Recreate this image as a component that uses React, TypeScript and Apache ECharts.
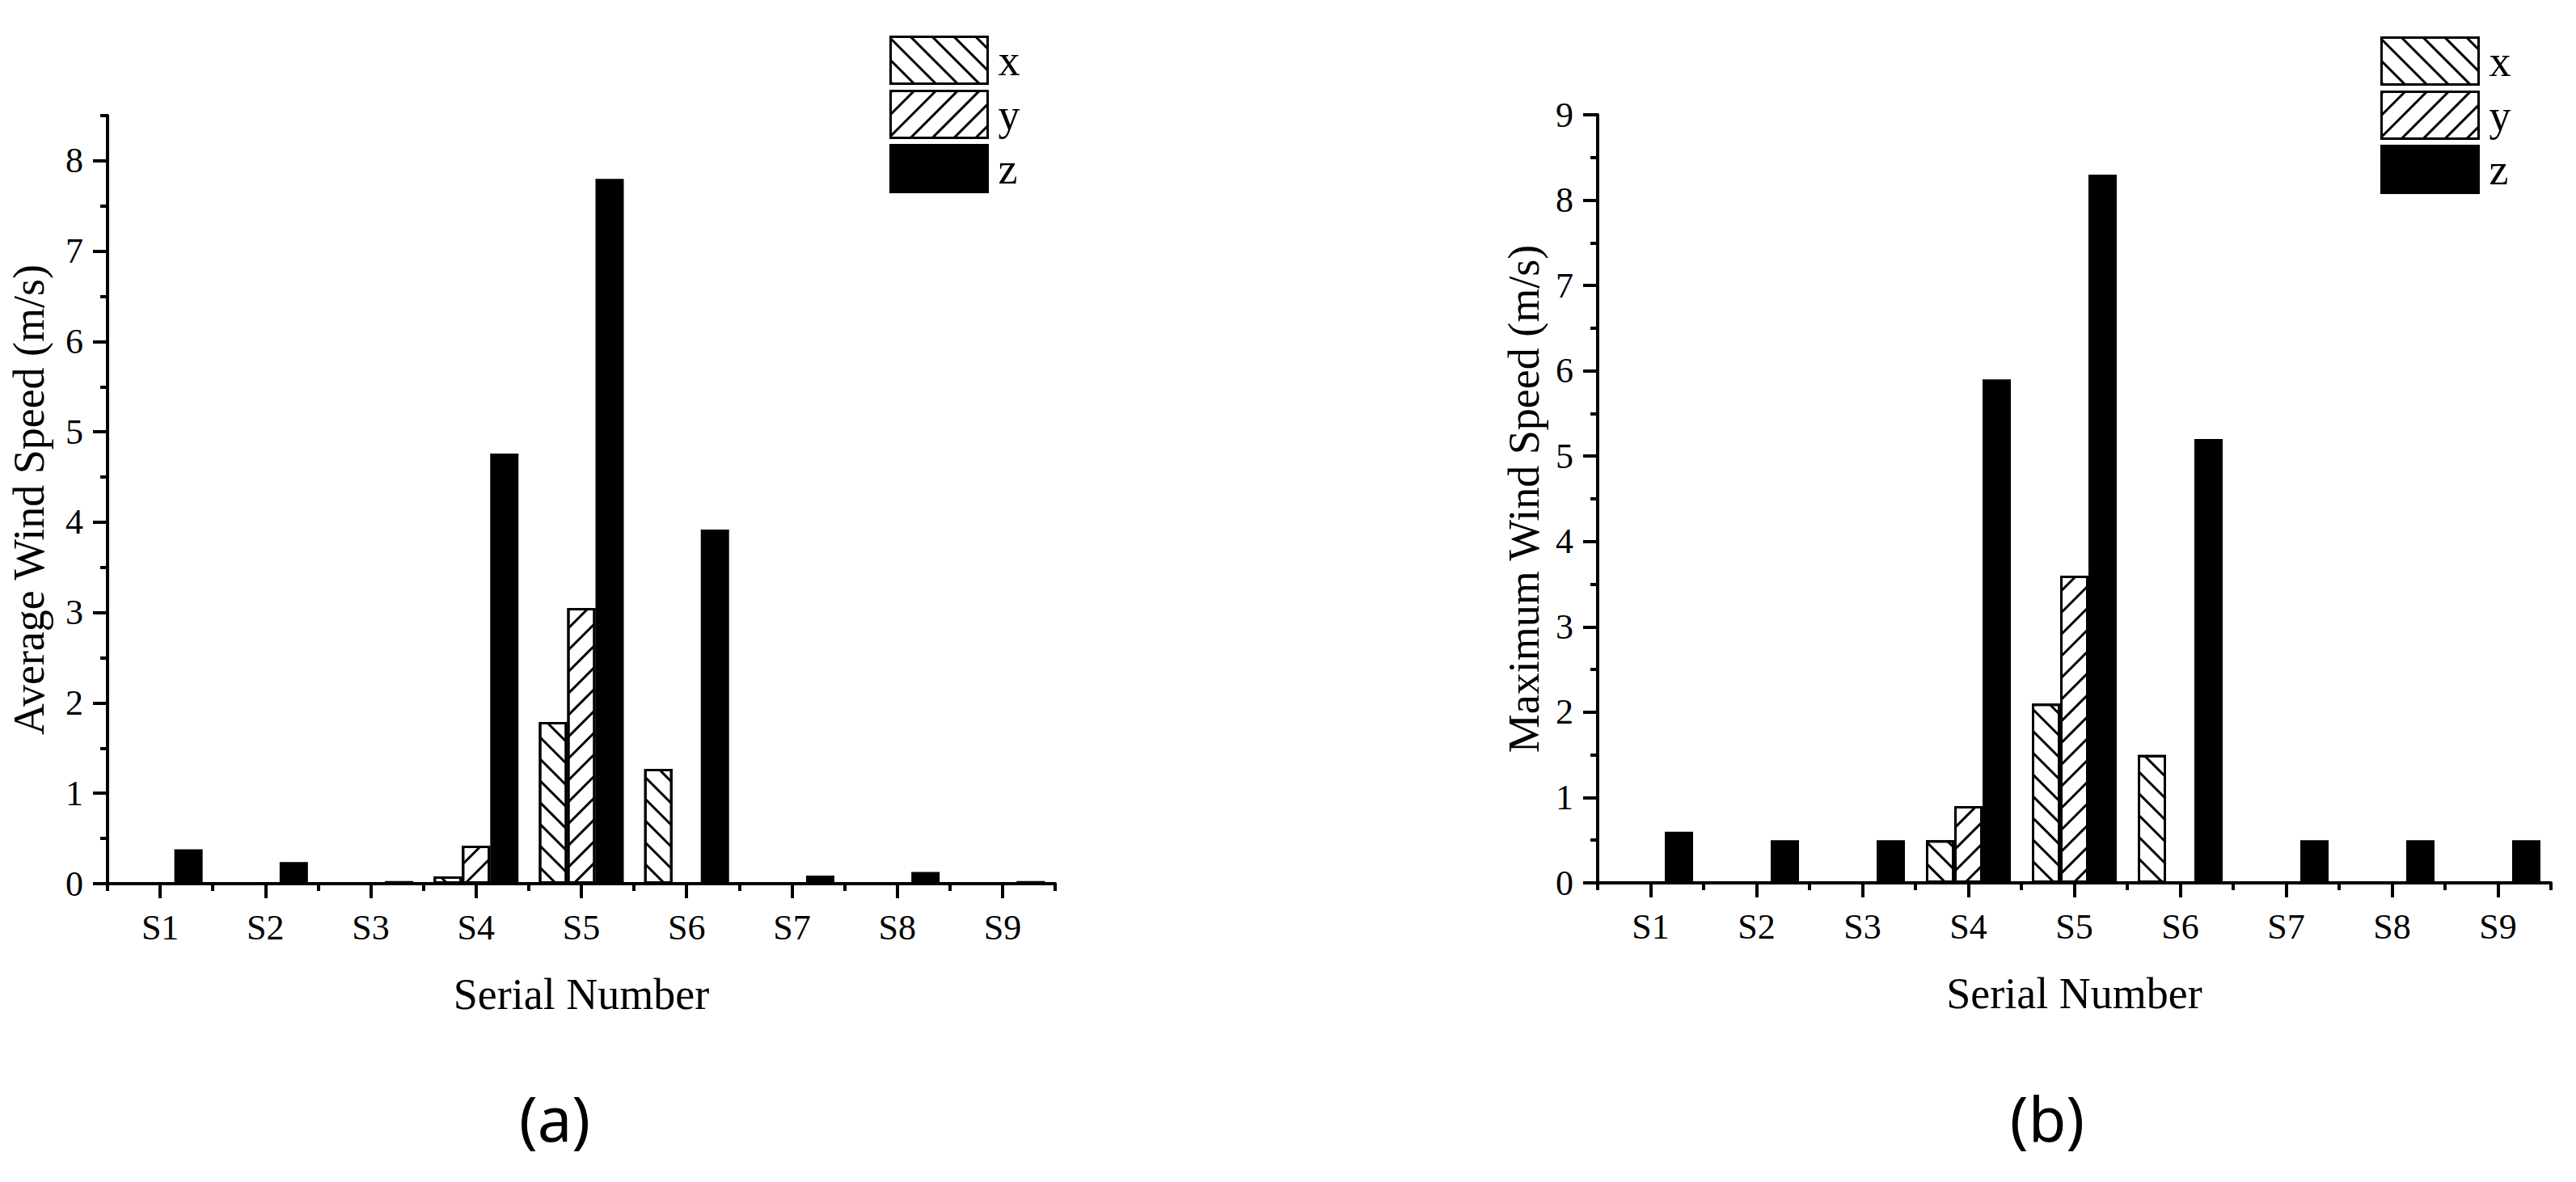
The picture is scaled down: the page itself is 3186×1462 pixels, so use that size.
import React, { useEffect, useRef } from "react";
import * as echarts from "echarts";

const categories = ["S1", "S2", "S3", "S4", "S5", "S6", "S7", "S8", "S9"];
const seriesNames = ["x", "y", "z"];

// (a) Average wind speed (m/s)
const avgX = [0, 0, 0, 0.08, 1.79, 1.27, 0, 0, 0];
const avgY = [0, 0, 0, 0.42, 3.05, 0, 0, 0, 0];
const avgZ = [0.38, 0.24, 0.03, 4.76, 7.8, 3.92, 0.09, 0.13, 0.03];

// (b) Maximum wind speed (m/s)
const maxX = [0, 0, 0, 0.5, 2.1, 1.5, 0, 0, 0];
const maxY = [0, 0, 0, 0.9, 3.6, 0, 0, 0, 0];
const maxZ = [0.6, 0.5, 0.5, 5.9, 8.3, 5.2, 0.5, 0.5, 0.5];

const avgMajorTicks = [0, 1, 2, 3, 4, 5, 6, 7, 8];
const avgMinorTicks = [0.5, 1.5, 2.5, 3.5, 4.5, 5.5, 6.5, 7.5, 8.5];
const maxMajorTicks = [0, 1, 2, 3, 4, 5, 6, 7, 8, 9];
const maxMinorTicks = [0.5, 1.5, 2.5, 3.5, 4.5, 5.5, 6.5, 7.5, 8.5];

const SERIF = "Liberation Serif";
const INK = "#000";

const hatch = (rotation: number) => ({
  symbol: "rect",
  symbolSize: 1,
  color: INK,
  backgroundColor: null,
  dashArrayX: [1, 0],
  dashArrayY: [3, 16],
  rotation,
});

const styles: any[] = [
  { color: "#fff", borderColor: INK, borderWidth: 3, decal: hatch(Math.PI / 4) },
  { color: "#fff", borderColor: INK, borderWidth: 3, decal: hatch(-Math.PI / 4) },
  { color: INK, borderColor: INK, borderWidth: 3 },
];

function buildAxes(
  gi: number,
  max: number,
  major: number[],
  minor: number[],
  yName: string,
  yNameGap: number
) {
  const xMain = {
    type: "category",
    gridIndex: gi,
    data: categories,
    boundaryGap: true,
    position: "bottom",
    axisLine: { show: true, lineStyle: { color: INK, width: 4 } },
    axisTick: { show: true, alignWithLabel: true, interval: 0, length: 18, lineStyle: { color: INK, width: 4 } },
    axisLabel: { interval: 0, fontSize: 44, fontFamily: SERIF, color: INK, margin: 32 },
    splitLine: { show: false },
    name: "Serial Number",
    nameLocation: "middle",
    nameGap: 110,
    nameTextStyle: { fontSize: 54, fontFamily: SERIF, color: INK },
  };
  const xMinor = {
    type: "category",
    gridIndex: gi,
    data: categories,
    boundaryGap: true,
    position: "bottom",
    axisLine: { show: false },
    axisTick: { show: true, alignWithLabel: false, interval: 0, length: 9, lineStyle: { color: INK, width: 4 } },
    axisLabel: { show: false },
    splitLine: { show: false },
  };
  const yMain = {
    type: "value",
    gridIndex: gi,
    min: 0,
    max,
    interval: 1,
    position: "left",
    axisLine: { show: true, lineStyle: { color: INK, width: 4 } },
    axisTick: { show: true, length: 18, customValues: major, lineStyle: { color: INK, width: 4 } },
    axisLabel: {
      customValues: major,
      fontSize: 44,
      fontFamily: SERIF,
      color: INK,
      margin: 30,
      formatter: (v: number) => (Number.isInteger(v) ? String(v) : ""),
    },
    splitLine: { show: false },
    name: yName,
    nameLocation: "middle",
    nameGap: yNameGap,
    nameRotate: 90,
    nameTextStyle: { fontSize: 54, fontFamily: SERIF, color: INK },
  };
  const yMinor = {
    type: "value",
    gridIndex: gi,
    min: 0,
    max,
    interval: 0.5,
    position: "left",
    offset: 0,
    axisLine: { show: false },
    axisTick: { show: true, length: 9, customValues: minor, lineStyle: { color: INK, width: 4 } },
    axisLabel: { show: false },
    splitLine: { show: false },
  };
  return { x: [xMain, xMinor], y: [yMain, yMinor] };
}

export default function App() {
  const ref = useRef<HTMLDivElement>(null);

  useEffect(() => {
    if (!ref.current) return;
    const chart = echarts.init(ref.current, null, { renderer: "svg" });

    const a = buildAxes(0, 8.5, avgMajorTicks, avgMinorTicks, "Average Wind Speed (m/s)", 70);
    const b = buildAxes(1, 9, maxMajorTicks, maxMinorTicks, "Maximum Wind Speed (m/s)", 64);

    const dataA = [avgX, avgY, avgZ];
    const dataB = [maxX, maxY, maxZ];

    const series: any[] = [];
    seriesNames.forEach((n, i) => {
      series.push({
        name: n,
        type: "bar",
        xAxisIndex: 0,
        yAxisIndex: 0,
        data: dataA[i],
        barWidth: 35,
        barGap: "0%",
        itemStyle: styles[i],
      });
    });
    seriesNames.forEach((n, i) => {
      series.push({
        name: n,
        type: "bar",
        xAxisIndex: 2,
        yAxisIndex: 2,
        data: dataB[i],
        barWidth: 35,
        barGap: "0%",
        itemStyle: styles[i],
      });
    });

    const legendBase = {
      orient: "vertical",
      icon: "rect",
      padding: 0,
      itemWidth: 120,
      itemHeight: 58,
      itemGap: 6,
      data: seriesNames,
      selectedMode: false,
      itemStyle: { borderWidth: 3, borderColor: INK },
      textStyle: { fontSize: 54, fontFamily: SERIF, color: INK, lineHeight: 58, padding: [0, 0, 0, 8] },
    };

    const option: any = {
      animation: false,
      backgroundColor: "#fff",
      textStyle: { fontFamily: SERIF, color: INK },
      grid: [
        { left: 133, top: 143, width: 1172, height: 950 },
        { left: 1976, top: 142, width: 1179, height: 950 },
      ],
      legend: [
        { ...legendBase, left: 1100, top: 44 },
        { ...legendBase, left: 2944, top: 45 },
      ],
      xAxis: [...a.x, ...b.x],
      yAxis: [...a.y, ...b.y],
      series,
      graphic: [
        {
          type: "text",
          x: 686,
          y: 1382,
          style: { text: "(a)", fontSize: 76, fontFamily: "Noto Sans", fill: INK, textAlign: "center", textVerticalAlign: "middle" },
        },
        {
          type: "text",
          x: 2532,
          y: 1382,
          style: { text: "(b)", fontSize: 76, fontFamily: "Noto Sans", fill: INK, textAlign: "center", textVerticalAlign: "middle" },
        },
      ],
    };

    chart.setOption(option);
    return () => chart.dispose();
  }, []);

  return (
    <div
      ref={ref}
      style={{ position: "fixed", left: 0, top: 0, width: 3186, height: 1462, background: "#fff" }}
    />
  );
}
